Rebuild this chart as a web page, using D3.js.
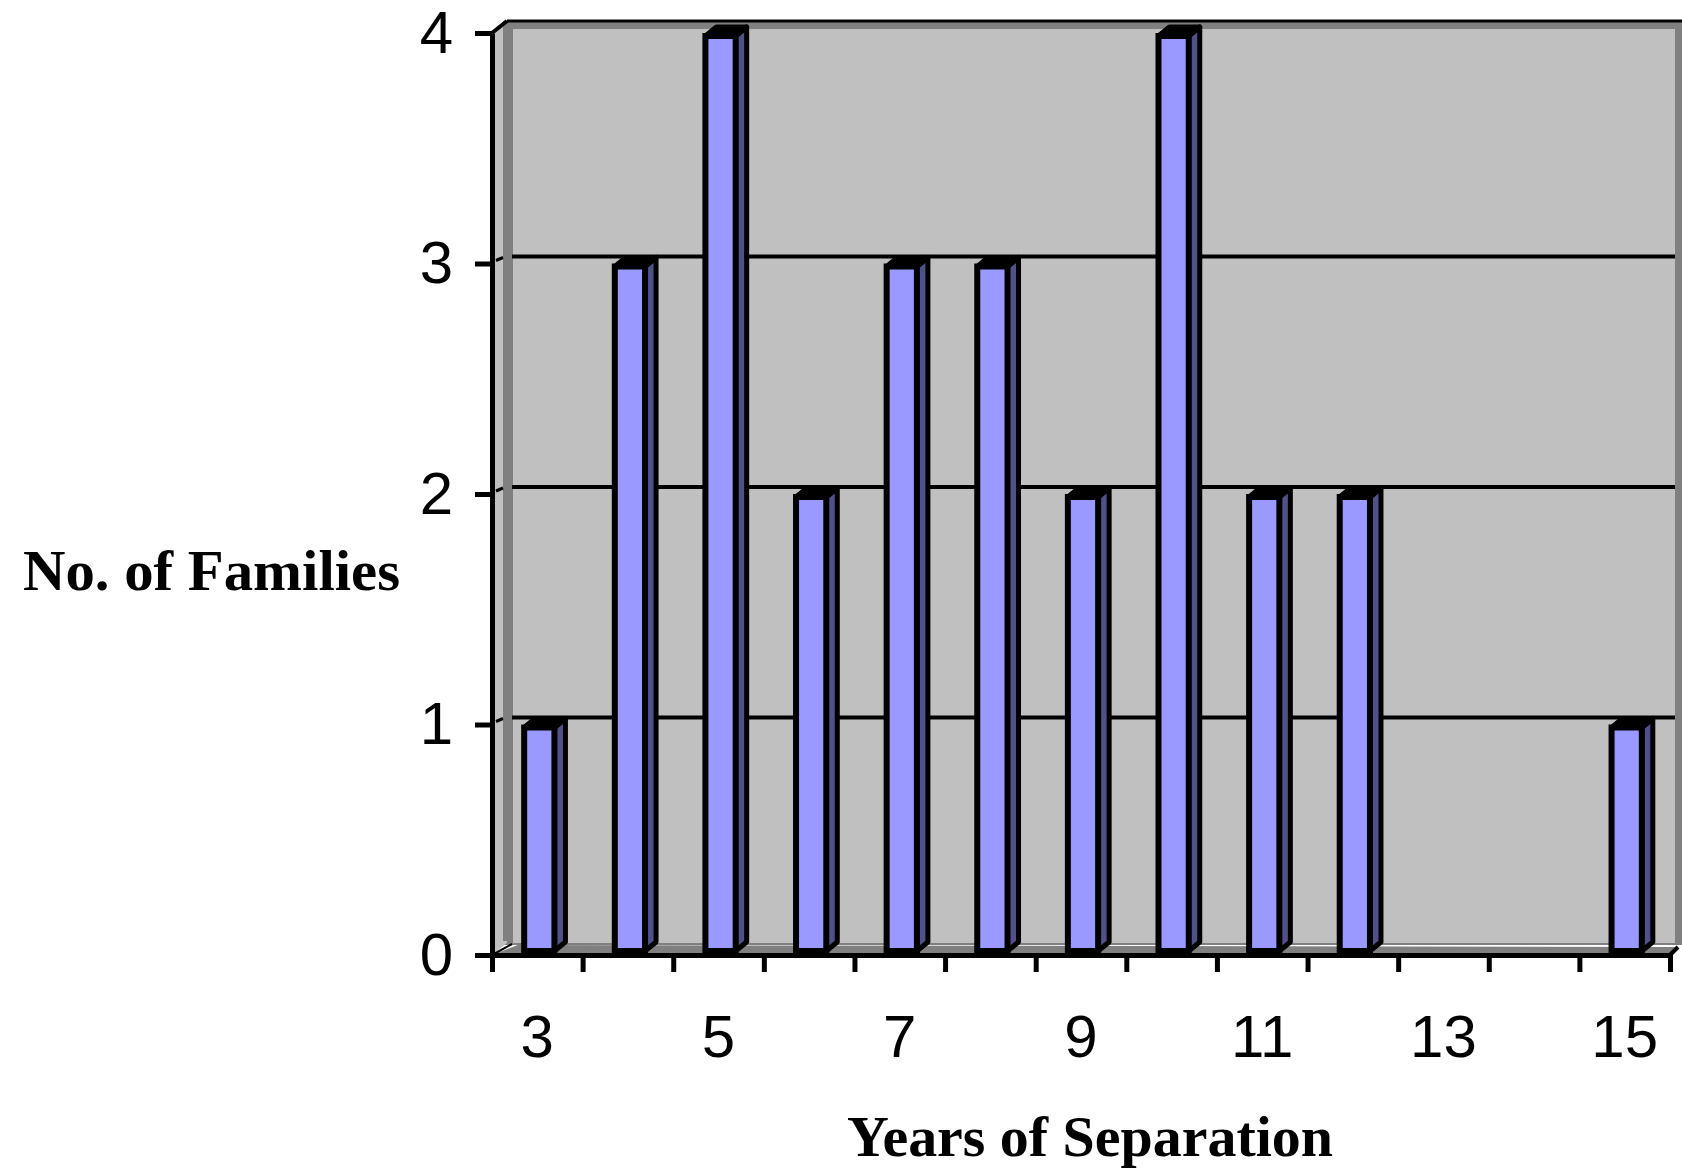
<!DOCTYPE html>
<html>
<head>
<meta charset="utf-8">
<script src="https://cdn.jsdelivr.net/npm/d3@7"></script>
<style>
  body { margin: 0; background: #fff; }
  .tick text { font-family: 'Liberation Sans', Arial, sans-serif; font-size: 60px; fill: #000; }
  .title { font-family: 'Liberation Serif', 'Times New Roman', serif; font-weight: bold; font-size: 57px; fill: #000; }
</style>
</head>
<body>
<svg id="chart"></svg>
<script>
const years = [3, 4, 5, 6, 7, 8, 9, 10, 11, 12, 13, 14, 15];
const families = [1, 3, 4, 2, 3, 3, 2, 4, 2, 2, 0, 0, 1];
const yTicks = [0, 1, 2, 3, 4];
const xLabels = [3, 5, 7, 9, 11, 13, 15];

const width = 1682;
const height = 1172;
const svg = d3.select('#chart').attr('width', width).attr('height', height);

const x0 = 492, x1 = 1670;
const x = d3.scaleBand().domain(years).range([x0, x1]);
const xEdge = d3.scaleLinear().domain([0, years.length]).range([x0, x1]);
const y = d3.scaleLinear().domain([0, 4]).range([955, 33]);

// wall depth (outer) and gridline depth
const wdx = 15, wdy = -12;
const gdy = -7;

// back wall: dark border then light face
svg.append('rect')
  .attr('x', x0 + 11).attr('y', y(4) + wdy)
  .attr('width', width - (x0 + 11)).attr('height', y(0) - 10 - (y(4) + wdy))
  .attr('fill', '#808080');
svg.append('rect')
  .attr('x', x0 + 21).attr('y', y(4) - 4)
  .attr('width', 1675 - (x0 + 21)).attr('height', y(0) - 12 - (y(4) - 4))
  .attr('fill', '#c0c0c0');
svg.append('line')
  .attr('x1', x0 + wdx).attr('x2', width)
  .attr('y1', y(4) + wdy).attr('y2', y(4) + wdy)
  .attr('stroke', '#000').attr('stroke-width', 3);

// left side wall
svg.append('path')
  .attr('d', `M${x0},${y(4)} L${x0 + wdx},${y(4) + wdy} L${x0 + wdx},${y(0) + wdy} L${x0},${y(0)} Z`)
  .attr('fill', '#c0c0c0');
svg.append('rect')
  .attr('x', x0 + 11).attr('y', y(4) + wdy + 2)
  .attr('width', 10).attr('height', y(0) - 14 - (y(4) + wdy + 2))
  .attr('fill', '#808080');
svg.append('line')
  .attr('x1', x0).attr('y1', y(4))
  .attr('x2', x0 + wdx).attr('y2', y(4) + wdy)
  .attr('stroke', '#000').attr('stroke-width', 4);

// floor
svg.append('path')
  .attr('d', `M${x0},${y(0)} L${x1},${y(0)} L${x1 + 8},${y(0) - 8} L${x0 + 26},${y(0) - 10} Z`)
  .attr('fill', '#808080');
svg.append('path')
  .attr('d', `M${x0},${y(0)} L${x0 + 20},${y(0) - 11}`)
  .attr('stroke', '#000').attr('stroke-width', 2).attr('fill', 'none');
svg.append('path')
  .attr('d', `M${x1},${y(0)} L${x1 + 8},${y(0) - 8}`)
  .attr('stroke', '#000').attr('stroke-width', 4).attr('fill', 'none');

// gridlines on back wall and side wall
const grid = yTicks.filter(d => d > 0 && d < 4);
svg.append('g').selectAll('line.grid')
  .data(grid)
  .join('line')
  .attr('x1', x0 + 20).attr('x2', 1675)
  .attr('y1', d => y(d) + gdy).attr('y2', d => y(d) + gdy)
  .attr('stroke', '#000').attr('stroke-width', 4);
svg.append('g').selectAll('line.side')
  .data(grid)
  .join('line')
  .attr('x1', x0 + 4).attr('x2', x0 + 11)
  .attr('y1', d => y(d) - 3).attr('y2', d => y(d) + gdy + 1)
  .attr('stroke', '#000').attr('stroke-width', 3);

// bars (gap width 150%: outer width = band / 2.5, stroke included)
const sw = 6;
const bw = x.bandwidth() / 2.5 - sw;
const bdx = 11, bdy = -9;
const bars = svg.append('g')
  .selectAll('g')
  .data(years.map((yr, i) => ({ yr, v: families[i] })).filter(d => d.v > 0))
  .join('g');

const barLeft = d => x(d.yr) + x.bandwidth() / 2 - bw / 2 + 2;

bars.append('path')
  .attr('d', d => {
    const r = barLeft(d) + bw;
    const t = y(d.v) + 3, b = y(0) - 4;
    return `M${r},${t} L${r + bdx},${t + bdy} L${r + bdx},${b + bdy} L${r},${b} Z`;
  })
  .attr('fill', '#50508a').attr('stroke', '#000').attr('stroke-width', 5).attr('stroke-linejoin', 'round');

bars.append('path')
  .attr('d', d => {
    const l = barLeft(d), r = l + bw;
    const t = y(d.v) + 3;
    return `M${l},${t} L${l + bdx},${t + bdy} L${r + bdx},${t + bdy} L${r},${t} Z`;
  })
  .attr('fill', '#000').attr('stroke', '#000').attr('stroke-width', 5).attr('stroke-linejoin', 'round');

bars.append('rect')
  .attr('x', barLeft)
  .attr('y', d => y(d.v) + 3)
  .attr('width', bw)
  .attr('height', d => y(0) - 4 - (y(d.v) + 3))
  .attr('fill', '#9999ff').attr('stroke', '#000').attr('stroke-width', sw);

// y axis
const yAxis = svg.append('g')
  .attr('transform', `translate(${x0},0)`)
  .call(d3.axisLeft(y).tickValues(yTicks).tickFormat(d3.format('d')).tickSize(17).tickSizeOuter(0).tickPadding(22));
yAxis.selectAll('path, line').attr('stroke', '#000').attr('stroke-width', 5);

// x axis: ticks between categories
const xAxis = svg.append('g')
  .attr('transform', `translate(0,${y(0)})`)
  .call(d3.axisBottom(xEdge).tickValues(d3.range(years.length + 1)).tickFormat('').tickSize(17).tickSizeOuter(0));
xAxis.selectAll('path, line').attr('stroke', '#000').attr('stroke-width', 5);
xAxis.select('.domain').attr('d', `M${x0 - 17},0.5H${x1}`);

const xLab = svg.append('g')
  .attr('transform', `translate(0,${y(0)})`)
  .call(d3.axisBottom(x).tickValues(xLabels).tickSize(0).tickPadding(59));
xLab.select('.domain').remove();

// titles
svg.append('text').attr('class', 'title')
  .attr('x', 23).attr('y', 590)
  .attr('textLength', 377).attr('lengthAdjust', 'spacingAndGlyphs')
  .text('No. of Families');
svg.append('text').attr('class', 'title')
  .attr('x', 847).attr('y', 1156)
  .attr('textLength', 486).attr('lengthAdjust', 'spacingAndGlyphs')
  .text('Years of Separation');
</script>
</body>
</html>
